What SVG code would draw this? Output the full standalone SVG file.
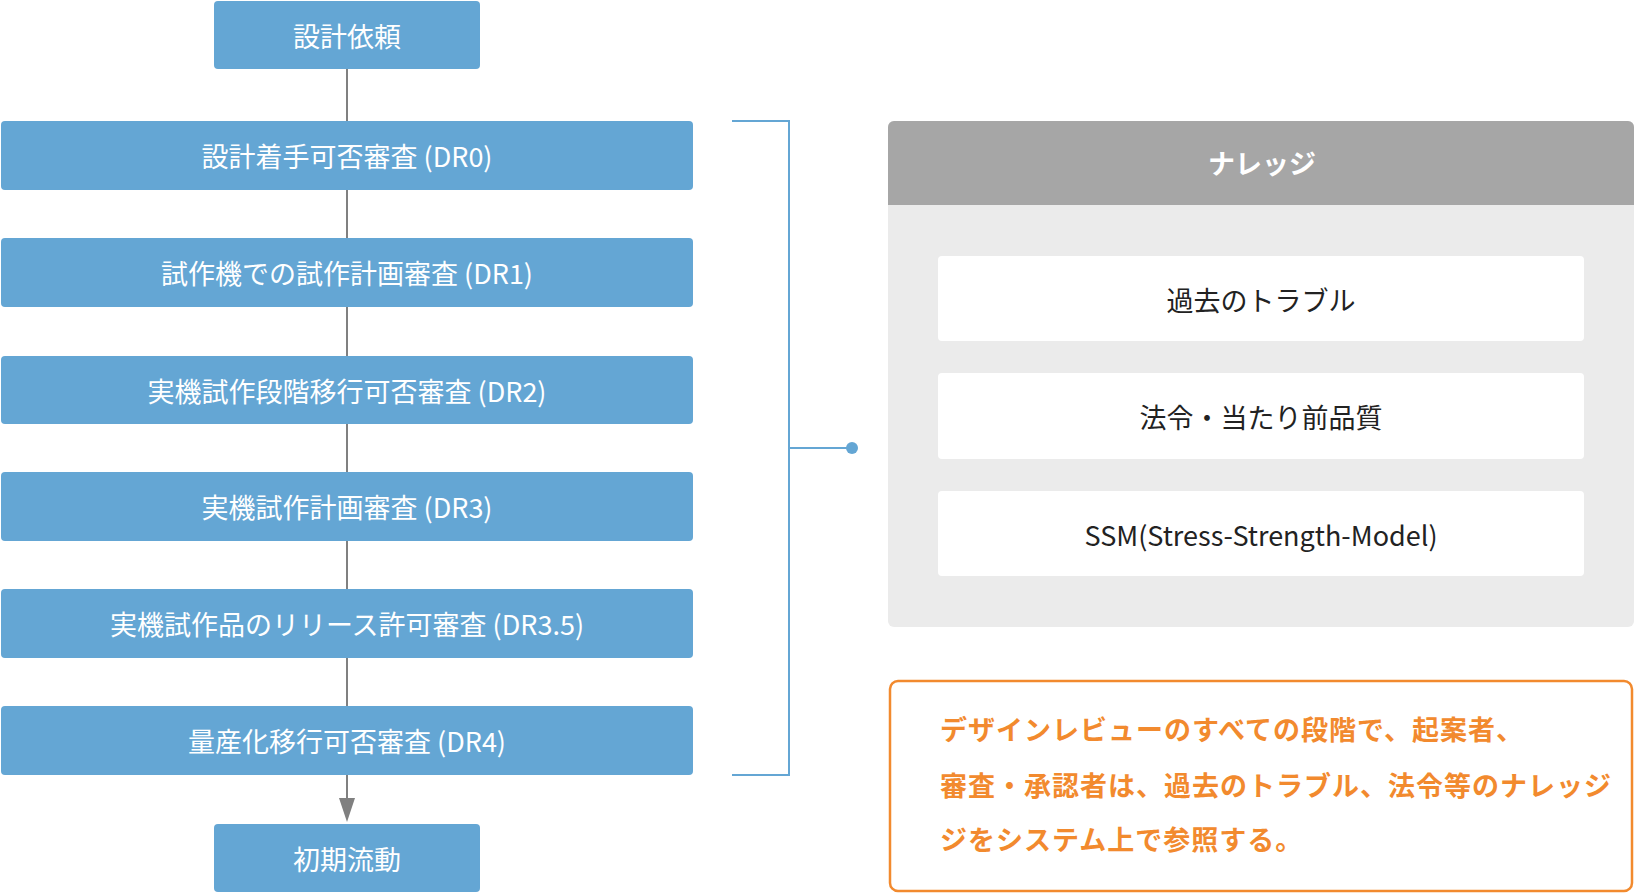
<svg xmlns="http://www.w3.org/2000/svg" width="1635" height="893" viewBox="0 0 1635 893">
<style>
.n{fill:#64a6d4}
.t{font-family:"Noto Sans CJK JP","Noto Sans",sans-serif;font-size:27px;fill:#fff;text-anchor:middle;dominant-baseline:central}
.k{font-family:"Noto Sans CJK JP","Noto Sans",sans-serif;font-size:27px;fill:#222;text-anchor:middle;dominant-baseline:central}
.o{font-family:"Noto Sans CJK JP",sans-serif;font-size:27px;fill:#f28a2e;font-weight:bold;letter-spacing:1px}
</style>
<defs><marker id="a" viewBox="0 0 10 10" refX="10" refY="5" markerWidth="8" markerHeight="8" markerUnits="userSpaceOnUse"><path d="M0 0L10 5L0 10z" fill="#808080"/></marker></defs>
<rect width="1635" height="893" fill="#fff"/>
<g id="connectors" stroke="#808080" stroke-width="2" fill="none">
<line x1="347" y1="69" x2="347" y2="121"/>
<line x1="347" y1="190" x2="347" y2="238"/>
<line x1="347" y1="307" x2="347" y2="356"/>
<line x1="347" y1="424" x2="347" y2="472"/>
<line x1="347" y1="541" x2="347" y2="589"/>
<line x1="347" y1="658" x2="347" y2="706"/>
<line x1="347" y1="775" x2="347" y2="800"/>
<path d="M339 798h16l-8 24z" fill="#808080" stroke="none"/>
<path d="M732 121H789V775H732M789 448H852" stroke="#64a6d4"/>
<circle cx="852" cy="448" r="6" fill="#64a6d4" stroke="none"/>
</g>
<g id="n0"><rect class="n" x="214" y="1" width="266" height="68" rx="4"/><text class="t" x="347" y="35">設計依頼</text></g>
<g id="n1"><rect class="n" x="1" y="121" width="692" height="69" rx="4"/><text class="t" x="347" y="155">設計着手可否審査 (DR0)</text></g>
<g id="n2"><rect class="n" x="1" y="238" width="692" height="69" rx="4"/><text class="t" x="347" y="272">試作機での試作計画審査 (DR1)</text></g>
<g id="n3"><rect class="n" x="1" y="356" width="692" height="68" rx="4"/><text class="t" x="347" y="390">実機試作段階移行可否審査 (DR2)</text></g>
<g id="n4"><rect class="n" x="1" y="472" width="692" height="69" rx="4"/><text class="t" x="347" y="506">実機試作計画審査 (DR3)</text></g>
<g id="n5"><rect class="n" x="1" y="589" width="692" height="69" rx="4"/><text class="t" x="347" y="623">実機試作品のリリース許可審査 (DR3.5)</text></g>
<g id="n6"><rect class="n" x="1" y="706" width="692" height="69" rx="4"/><text class="t" x="347" y="740">量産化移行可否審査 (DR4)</text></g>
<g id="n7"><rect class="n" x="214" y="824" width="266" height="68" rx="4"/><text class="t" x="347" y="858">初期流動</text></g>
<g id="knowledge">
<rect x="888" y="121" width="746" height="506" rx="6" fill="#ebebeb"/>
<path d="M894 121H1628a6 6 0 0 1 6 6V205H888V127a6 6 0 0 1 6-6z" fill="#a6a6a6"/>
<text class="t" x="1262" y="162" font-weight="bold">ナレッジ</text>
<rect x="938" y="256" width="646" height="85" rx="4" fill="#fff"/><text class="k" x="1261" y="299">過去のトラブル</text>
<rect x="938" y="373" width="646" height="86" rx="4" fill="#fff"/><text class="k" x="1261" y="416">法令・当たり前品質</text>
<rect x="938" y="491" width="646" height="85" rx="4" fill="#fff"/><text class="k" x="1261" y="534">SSM(Stress-Strength-Model)</text>
</g>
<g id="note">
<rect x="890" y="681" width="742" height="210" rx="8" fill="#fff" stroke="#f28a2e" stroke-width="2.5"/>
<text class="o" x="940" y="740">デザインレビューのすべての段階で、起案者、</text>
<text class="o" x="940" y="796">審査・承認者は、過去のトラブル、法令等のナレッジ</text>
<text class="o" x="940" y="850">ジをシステム上で参照する。</text>
</g>
</svg>
